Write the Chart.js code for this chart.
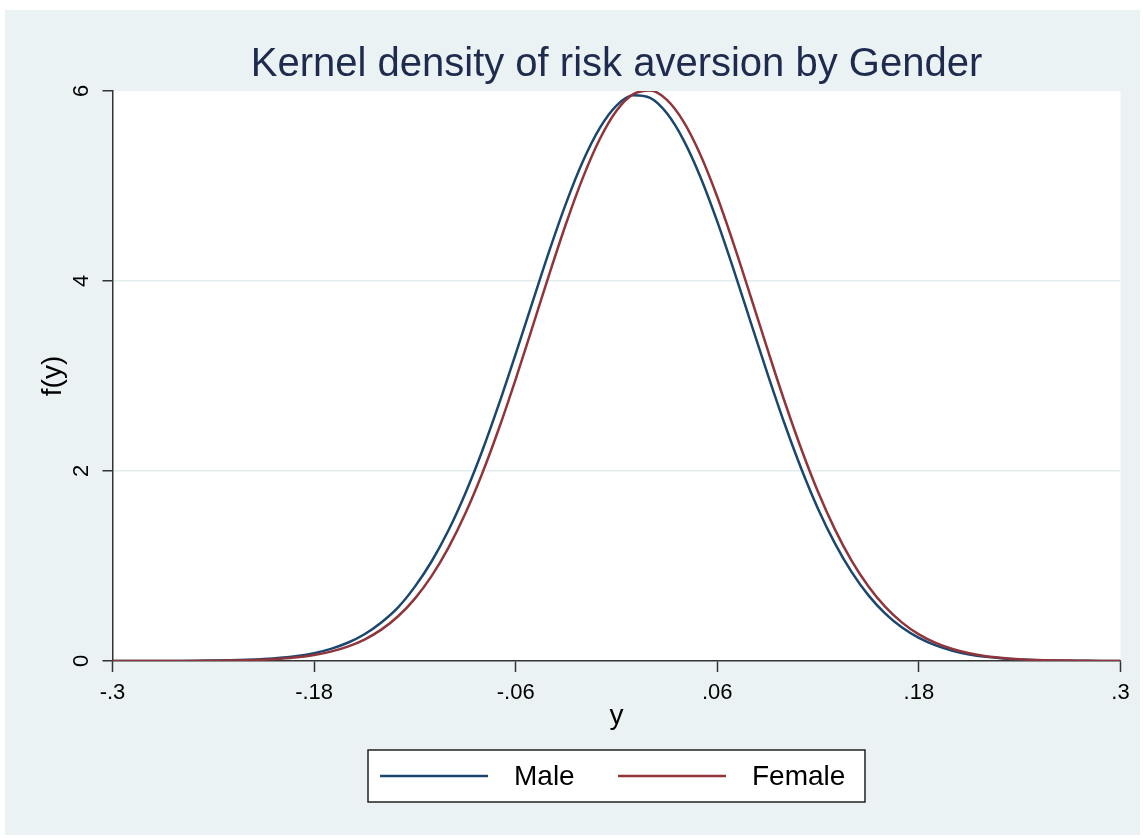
<!DOCTYPE html>
<html>
<head>
<meta charset="utf-8">
<script src="https://cdn.jsdelivr.net/npm/chart.js@4.4.1/dist/chart.umd.min.js"></script>
<style>
  html, body { margin: 0; padding: 0; background: #ffffff; }
  #wrap { position: relative; width: 1143px; height: 838px; }
</style>
</head>
<body>
<div id="wrap"><canvas id="kdensity" width="1143" height="838"></canvas></div>
<script>
// grid of evaluation points (x = risk aversion, y in Stata's terms)
const xValues = [
  -0.30, -0.29, -0.28, -0.27, -0.26, -0.25, -0.24, -0.23, -0.22, -0.21,
  -0.20, -0.19, -0.18, -0.17, -0.16, -0.15, -0.14, -0.13, -0.12, -0.11,
  -0.10, -0.09, -0.08, -0.07, -0.06, -0.05, -0.04, -0.03, -0.02, -0.01,
   0.00,  0.01,  0.02,  0.03,  0.04,  0.05,  0.06,  0.07,  0.08,  0.09,
   0.10,  0.11,  0.12,  0.13,  0.14,  0.15,  0.16,  0.17,  0.18,  0.19,
   0.20,  0.21,  0.22,  0.23,  0.24,  0.25,  0.26,  0.27,  0.28,  0.29,
   0.30
];

// densities
const maleDensity = [
  0.000, 0.000, 0.000, 0.001, 0.001, 0.002, 0.004, 0.007, 0.012, 0.020,
  0.033, 0.053, 0.083, 0.128, 0.192, 0.282, 0.406, 0.565, 0.783, 1.050,
  1.376, 1.764, 2.208, 2.703, 3.233, 3.778, 4.317, 4.820, 5.260, 5.609,
  5.846, 5.954, 5.927, 5.765, 5.481, 5.093, 4.625, 4.105, 3.560, 3.018,
  2.500, 2.024, 1.601, 1.238, 0.936, 0.691, 0.499, 0.352, 0.243, 0.164,
  0.108, 0.069, 0.044, 0.027, 0.016, 0.009, 0.005, 0.003, 0.002, 0.001,
  0.000
];

const femaleDensity = [
  0.000, 0.000, 0.000, 0.000, 0.001, 0.001, 0.003, 0.005, 0.008, 0.014,
  0.024, 0.039, 0.063, 0.099, 0.151, 0.226, 0.330, 0.471, 0.657, 0.896,
  1.193, 1.552, 1.971, 2.447, 2.968, 3.518, 4.072, 4.605, 5.088, 5.492,
  5.792, 5.967, 6.006, 5.907, 5.675, 5.326, 4.884, 4.375, 3.829, 3.274,
  2.734, 2.232, 1.779, 1.386, 1.054, 0.784, 0.569, 0.404, 0.280, 0.190,
  0.126, 0.081, 0.051, 0.032, 0.019, 0.011, 0.006, 0.004, 0.002, 0.001,
  0.000
];

const seriesNames = ['Male', 'Female'];
const xTicks = [-0.3, -0.18, -0.06, 0.06, 0.18, 0.3];
const xTickLabels = ['-.3', '-.18', '-.06', '.06', '.18', '.3'];
const yTicks = [0, 2, 4, 6];
const yTickLabels = ['0', '2', '4', '6'];

const FONT = "'Liberation Sans', Arial, sans-serif";
const BG = '#eaf2f3';
const AXIS = '#333333';

function toPoints(ys) {
  return xValues.map((x, i) => ({ x: x, y: ys[i] }));
}

// stata-like light background with a white plot region
const backdrop = {
  id: 'backdrop',
  beforeDraw(chart) {
    const ctx = chart.ctx;
    const a = chart.chartArea;
    ctx.save();
    ctx.fillStyle = '#ffffff';
    ctx.fillRect(0, 0, chart.width, chart.height);
    ctx.fillStyle = BG;
    ctx.fillRect(5, 10, 1135, 825);
    ctx.fillStyle = '#ffffff';
    ctx.fillRect(a.left, a.top, a.right - a.left, a.bottom - a.top);
    ctx.restore();
  }
};

// boxed legend below the axis, like the original
const boxLegend = {
  id: 'boxLegend',
  afterDraw(chart) {
    const ctx = chart.ctx;
    ctx.save();
    ctx.fillStyle = '#ffffff';
    ctx.fillRect(368, 750, 497, 52);
    ctx.strokeStyle = '#222222';
    ctx.lineWidth = 1.5;
    ctx.strokeRect(368, 750, 497, 52);
    const keys = [
      { x0: 380, x1: 488, tx: 514 },
      { x0: 618, x1: 726, tx: 752 }
    ];
    ctx.font = '28px ' + FONT;
    ctx.textBaseline = 'middle';
    ctx.textAlign = 'left';
    chart.data.datasets.forEach((ds, i) => {
      const k = keys[i];
      ctx.strokeStyle = ds.borderColor;
      ctx.lineWidth = 2.5;
      ctx.beginPath();
      ctx.moveTo(k.x0, 776);
      ctx.lineTo(k.x1, 776);
      ctx.stroke();
      ctx.fillStyle = '#000000';
      ctx.fillText(ds.label, k.tx, 777);
    });
    ctx.restore();
  }
};

new Chart(document.getElementById('kdensity'), {
  type: 'line',
  data: {
    datasets: [
      {
        label: seriesNames[0],
        data: toPoints(maleDensity),
        borderColor: '#1a476f',
        borderWidth: 2.5,
        pointRadius: 0,
        cubicInterpolationMode: 'monotone',
        order: 1
      },
      {
        label: seriesNames[1],
        data: toPoints(femaleDensity),
        borderColor: '#90353b',
        borderWidth: 2.5,
        pointRadius: 0,
        cubicInterpolationMode: 'monotone',
        order: 0
      }
    ]
  },
  options: {
    responsive: false,
    animation: false,
    devicePixelRatio: 1,
    layout: { padding: { left: 0, right: 22.5, top: 0, bottom: 0 } },
    plugins: {
      legend: { display: false },
      tooltip: { enabled: false },
      title: {
        display: true,
        text: 'Kernel density of risk aversion by Gender',
        fullSize: false,
        color: '#1e2b4f',
        font: { family: FONT, size: 40, weight: 'normal', lineHeight: 1.2 },
        padding: { top: 40.5, bottom: 2.5 }
      }
    },
    scales: {
      x: {
        type: 'linear',
        min: -0.3,
        max: 0.3,
        afterBuildTicks: s => { s.ticks = xTicks.map(v => ({ value: v })); },
        afterFit: s => { s.height = 177; },
        ticks: {
          callback: (v, i) => xTickLabels[i],
          color: '#000000',
          font: { family: FONT, size: 22 },
          padding: 7.8,
          maxRotation: 0,
          autoSkip: false
        },
        grid: { drawOnChartArea: false, tickLength: 11, tickColor: AXIS, tickWidth: 1.5 },
        border: { color: AXIS, width: 1.5 },
        title: {
          display: true,
          text: 'y',
          color: '#000000',
          font: { family: FONT, size: 28 },
          padding: { top: 0, bottom: 105 }
        }
      },
      y: {
        min: 0,
        max: 6,
        afterBuildTicks: s => { s.ticks = yTicks.map(v => ({ value: v })); },
        afterFit: s => { s.width = 112.5; },
        ticks: {
          callback: (v, i) => yTickLabels[i],
          color: '#000000',
          font: { family: FONT, size: 22 },
          minRotation: 90,
          maxRotation: 90,
          crossAlign: 'center',
          padding: 14
        },
        grid: {
          color: c => (c.tick && (c.tick.value === 2 || c.tick.value === 4)) ? '#e3ecee' : 'rgba(0,0,0,0)',
          lineWidth: 1.5,
          tickLength: 10,
          tickColor: AXIS,
          tickWidth: 1.5
        },
        border: { color: AXIS, width: 1.5 },
        title: {
          display: true,
          text: 'f(y)',
          color: '#000000',
          font: { family: FONT, size: 28 },
          padding: { top: 36, bottom: 0 }
        }
      }
    }
  },
  plugins: [backdrop, boxLegend]
});
</script>
</body>
</html>
